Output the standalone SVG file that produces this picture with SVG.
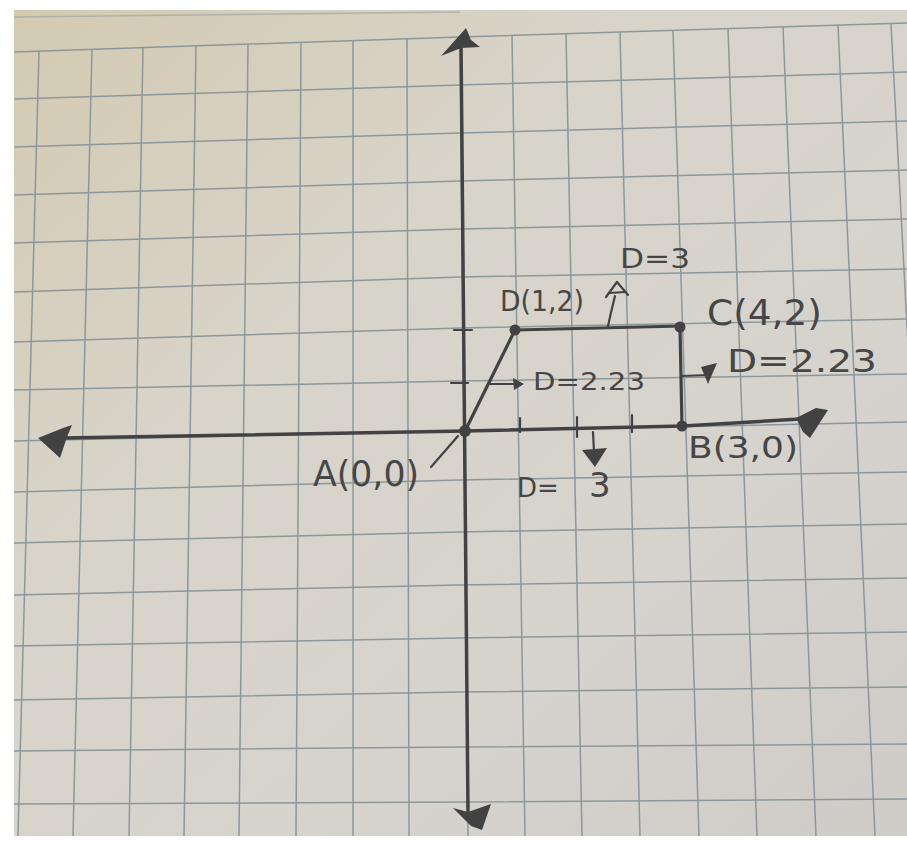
<svg xmlns="http://www.w3.org/2000/svg" width="907" height="843" viewBox="0 0 907 843">
  <defs>
    <linearGradient id="paperGrad" x1="0" y1="0" x2="1" y2="1">
      <stop offset="0" stop-color="#d3cab1"/>
      <stop offset="0.35" stop-color="#d8d4ca"/>
      <stop offset="0.7" stop-color="#d6d3ce"/>
      <stop offset="1" stop-color="#cfccc8"/>
    </linearGradient>
    <style>
      .grid { fill: none; stroke: #8c979a; stroke-width: 1.5; }
      .pencil { fill: none; stroke: #424242; stroke-linecap: round; stroke-linejoin: round; }
      .axis { stroke-width: 3.5; }
      .side { stroke-width: 3.2; }
      .thin { stroke-width: 2.2; }
      .ink { fill: #424242; }
      .label { font-family: "DejaVu Sans", "Liberation Sans", sans-serif; fill: #464646; }
    </style>
  </defs>

  <rect x="0" y="0" width="907" height="843" fill="#ffffff"/>
  <rect id="paper" x="14" y="10" width="893" height="826" fill="url(#paperGrad)"/>

  <g id="grid">
    <polyline class="grid" points="14,17 460,12" stroke-opacity="0.5"/>
    <polyline class="grid" points="14,52 460,37 907,23"/>
    <polyline class="grid" points="14,99 460,85 907,72"/>
    <polyline class="grid" points="14,147 460,133 907,121"/>
    <polyline class="grid" points="14,195 460,181 907,170"/>
    <polyline class="grid" points="14,243 460,229 907,219"/>
    <polyline class="grid" points="14,292 460,277 907,269"/>
    <polyline class="grid" points="14,342 460,328 907,319"/>
    <polyline class="grid" points="14,390 460,381 907,374"/>
    <polyline class="grid" points="14,441 460,431 907,422"/>
    <polyline class="grid" points="14,492 460,480 907,472"/>
    <polyline class="grid" points="14,543 460,532 907,524"/>
    <polyline class="grid" points="14,595 460,585 907,578"/>
    <polyline class="grid" points="14,646 460,638 907,632"/>
    <polyline class="grid" points="14,700 460,692 907,687"/>
    <polyline class="grid" points="14,751 460,747 907,744"/>
    <polyline class="grid" points="14,804 460,802 907,799"/>
    <line class="grid" x1="39" y1="51" x2="18" y2="836"/>
    <line class="grid" x1="92" y1="49" x2="73" y2="836"/>
    <line class="grid" x1="143" y1="48" x2="129" y2="836"/>
    <line class="grid" x1="196" y1="46" x2="184" y2="836"/>
    <line class="grid" x1="248" y1="44" x2="239" y2="836"/>
    <line class="grid" x1="301" y1="42" x2="296" y2="836"/>
    <line class="grid" x1="353" y1="41" x2="353" y2="836"/>
    <line class="grid" x1="407" y1="39" x2="409" y2="836"/>
    <line class="grid" x1="460" y1="37" x2="468" y2="836"/>
    <line class="grid" x1="512" y1="35" x2="525" y2="836"/>
    <line class="grid" x1="566" y1="34" x2="582" y2="836"/>
    <line class="grid" x1="620" y1="32" x2="640" y2="836"/>
    <line class="grid" x1="673" y1="30" x2="699" y2="836"/>
    <line class="grid" x1="728" y1="29" x2="757" y2="836"/>
    <line class="grid" x1="783" y1="27" x2="816" y2="836"/>
    <line class="grid" x1="838" y1="25" x2="875" y2="836"/>
    <line class="grid" x1="891" y1="24" x2="934" y2="836"/>
  </g>

  <g id="axes">
    <line class="pencil axis" x1="461" y1="40" x2="468" y2="812"/>
    <polyline class="pencil axis" points="62,438 465,431 683,426 800,419"/>
    <polygon class="ink" points="466,28 441,56 461,48 480,47 471,40"/>
    <polygon class="ink" points="453,808 468,812 491,804 482,830 471,826"/>
    <polygon class="ink" points="38,438 63,428 72,425 67,437 60,458"/>
    <polygon class="ink" points="796,418 816,408 828,410 810,438 803,432"/>
    <g id="ticks">
      <line class="pencil thin" x1="520" y1="418" x2="520" y2="432"/>
      <line class="pencil thin" x1="577" y1="417" x2="577" y2="437"/>
      <line class="pencil thin" x1="632" y1="415" x2="632" y2="432"/>
      <line class="pencil thin" x1="454" y1="330" x2="472" y2="330"/>
      <line class="pencil thin" x1="451" y1="383" x2="468" y2="383"/>
    </g>
  </g>

  <g id="connectors">
    <line id="edge-AD" class="pencil side" x1="465" y1="431" x2="515" y2="330"/>
    <line id="edge-DC" class="pencil side" x1="515" y1="330" x2="682" y2="326"/>
    <line id="edge-CB" class="pencil side" x1="680" y1="327" x2="682" y2="427"/>
    <line id="leader-A" class="pencil thin" x1="431" y1="467" x2="458" y2="436"/>
    <g id="arrow-up">
      <path class="pencil thin" d="M608,326 Q611,312 615,296"/>
      <path class="pencil thin" d="M606,297 L617,282 L628,295"/>
      <line class="pencil thin" x1="609" y1="293" x2="625" y2="292"/>
    </g>
    <g id="arrow-down">
      <line class="pencil thin" x1="593" y1="432" x2="594" y2="452"/>
      <polygon class="ink" points="582,450 607,448 595,467"/>
    </g>
    <g id="arrow-inner">
      <line class="pencil thin" x1="489" y1="384" x2="514" y2="384"/>
      <polygon class="ink" points="513,378 524,384 514,390"/>
    </g>
    <g id="arrow-right">
      <line class="pencil thin" x1="682" y1="376" x2="708" y2="375"/>
      <polygon class="ink" points="701,367 717,363 708,384"/>
    </g>
  </g>

  <g id="node-A">
    <circle class="ink" cx="465" cy="431" r="6"/>
    <text class="label" x="313" y="486" font-size="35" textLength="106" lengthAdjust="spacingAndGlyphs">A(0,0)</text>
  </g>
  <g id="node-B">
    <circle class="ink" cx="682" cy="426" r="5.5"/>
    <text class="label" x="688" y="458" font-size="31" textLength="110" lengthAdjust="spacingAndGlyphs">B(3,0)</text>
  </g>
  <g id="node-C">
    <circle class="ink" cx="680" cy="327" r="5.5"/>
    <text class="label" x="707" y="325" font-size="36" textLength="115" lengthAdjust="spacingAndGlyphs">C(4,2)</text>
  </g>
  <g id="node-D">
    <circle class="ink" cx="515" cy="330" r="5.5"/>
    <text class="label" x="500" y="311" font-size="29" textLength="84" lengthAdjust="spacingAndGlyphs">D(1,2)</text>
  </g>

  <g id="labels">
    <text class="label" x="620" y="268" font-size="26" textLength="70" lengthAdjust="spacingAndGlyphs">D=3</text>
    <text class="label" x="727" y="372" font-size="32" textLength="150" lengthAdjust="spacingAndGlyphs">D=2.23</text>
    <text class="label" x="533" y="390" font-size="24" textLength="112" lengthAdjust="spacingAndGlyphs">D=2.23</text>
    <text class="label" y="497" font-size="26"><tspan x="517">D=</tspan><tspan x="589" font-size="34">3</tspan></text>
  </g>
</svg>
